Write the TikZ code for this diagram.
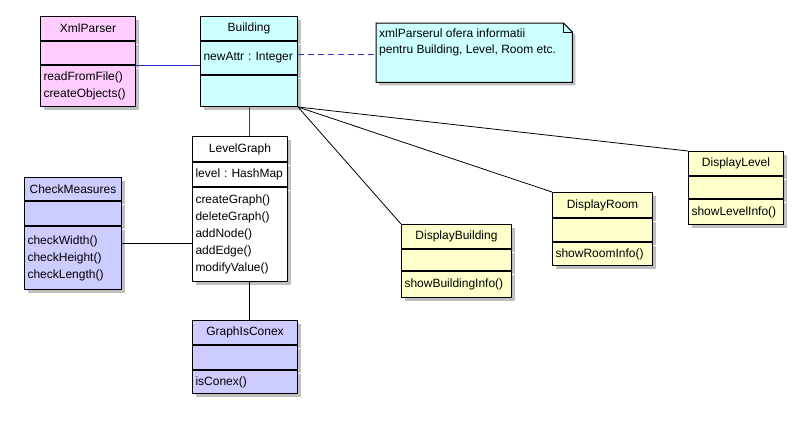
\documentclass[tikz,border=0pt]{standalone}
\usepackage{fontspec}
\setmainfont{Liberation Sans}
\usepackage{tikz}
\usetikzlibrary{positioning, shadows}
\definecolor{pinkc}{RGB}{255,204,255}
\definecolor{cyanc}{RGB}{204,255,255}
\definecolor{lavc}{RGB}{204,204,255}
\definecolor{yelc}{RGB}{255,255,204}
\definecolor{linkblue}{RGB}{45,45,205}
\tikzset{
  box/.style   = {draw, rectangle, line width=1bp, inner xsep=3bp, inner ysep=2bp,
                  font=\fontsize{12bp}{17bp}\selectfont,
                  drop shadow={shadow xshift=3bp, shadow yshift=-3bp, fill=black!25, opacity=1}},
  hdr/.style   = {box, anchor=north west, align=center},
  cmp/.style   = {box, align=left},
  assoc/.style = {line width=0.8bp},
  link/.style  = {line width=1bp, linkblue},
  dep/.style   = {link, dash pattern=on 6bp off 4bp},
  notebox/.style = {draw, line width=1bp, fill=cyanc,
                  drop shadow={shadow xshift=3bp, shadow yshift=-3bp, fill=black!25, opacity=1}},
  notetxt/.style = {inner sep=0pt, align=left, font=\fontsize{12bp}{16bp}\selectfont},
}

\begin{document}
\begin{tikzpicture}[x=1bp, y=-1bp]
  \useasboundingbox[fill=white] (0,0) rectangle (807,423);
  % XmlParser
  \node[hdr, fill=pinkc, minimum width=95bp, minimum height=24bp] (xmlp) at (40,16) {XmlParser};
  \node[cmp, fill=pinkc, text width=89bp, minimum height=23bp, below=0pt of xmlp] (xmlp-at) {};
  \node[cmp, fill=pinkc, text width=89bp, minimum height=41bp, below=0pt of xmlp-at] (xmlp-op)
    {readFromFile()\\createObjects()};
  % Building
  \node[hdr, fill=cyanc, minimum width=97bp, minimum height=24bp] (bldg) at (200,16) {Building};
  \node[cmp, fill=cyanc, text width=91bp, minimum height=33bp, below=0pt of bldg] (bldg-at)
    {newAttr~:~Integer};
  \node[cmp, fill=cyanc, text width=91bp, minimum height=31bp, below=0pt of bldg-at] (bldg-op) {};
  % note
  \node[minimum width=196bp, minimum height=59bp, inner sep=0pt, anchor=north west] (note) at (376,23) {};
  \draw[notebox] (note.north west) -- ([xshift=-9bp]note.north east) -- ([yshift=-9bp]note.north east)
    -- (note.south east) -- (note.south west) -- cycle;
  \draw[line width=1bp] ([xshift=-9bp]note.north east) |- ([yshift=-9bp]note.north east);
  \node[notetxt, anchor=north west] (note-txt) at ([xshift=3bp, yshift=-6bp]note.north west)
    {xmlParserul ofera informatii\\pentru Building, Level, Room etc.};
  % LevelGraph
  \node[hdr, fill=white, minimum width=95bp, minimum height=25bp] (lvl) at (192,136) {LevelGraph};
  \node[cmp, fill=white, text width=89bp, minimum height=24bp, below=0pt of lvl] (lvl-at)
    {level~:~HashMap};
  \node[cmp, fill=white, text width=89bp, minimum height=94bp, below=0pt of lvl-at] (lvl-op)
    {createGraph()\\deleteGraph()\\addNode()\\addEdge()\\modifyValue()};
  % CheckMeasures
  \node[hdr, fill=lavc, minimum width=97bp, minimum height=23bp] (chk) at (24,177) {CheckMeasures};
  \node[cmp, fill=lavc, text width=91bp, minimum height=24bp, below=0pt of chk] (chk-at) {};
  \node[cmp, fill=lavc, text width=91bp, minimum height=63bp, below=0pt of chk-at] (chk-op)
    {checkWidth()\\checkHeight()\\checkLength()};
  % GraphIsConex
  \node[hdr, fill=lavc, minimum width=105bp, minimum height=24bp] (gic) at (192,320) {GraphIsConex};
  \node[cmp, fill=lavc, text width=99bp, minimum height=24bp, below=0pt of gic] (gic-at) {};
  \node[cmp, fill=lavc, text width=99bp, minimum height=23bp, below=0pt of gic-at] (gic-op) {isConex()};
  % display classes
  \node[hdr, fill=yelc, minimum width=110bp, minimum height=24bp] (dbld) at (401,224) {DisplayBuilding};
  \node[cmp, fill=yelc, text width=104bp, minimum height=21bp, below=0pt of dbld] (dbld-at) {};
  \node[cmp, fill=yelc, text width=104bp, minimum height=26bp, below=0pt of dbld-at] (dbld-op)
    {showBuildingInfo()};
  \node[hdr, fill=yelc, minimum width=100bp, minimum height=25bp] (droom) at (552,192) {DisplayRoom};
  \node[cmp, fill=yelc, text width=94bp, minimum height=23bp, below=0pt of droom] (droom-at) {};
  \node[cmp, fill=yelc, text width=94bp, minimum height=23bp, below=0pt of droom-at] (droom-op)
    {showRoomInfo()};
  \node[hdr, fill=yelc, minimum width=95bp, minimum height=24bp] (dlvl) at (688,151) {DisplayLevel};
  \node[cmp, fill=yelc, text width=89bp, minimum height=22bp, below=0pt of dlvl] (dlvl-at) {};
  \node[cmp, fill=yelc, text width=89bp, minimum height=25bp, below=0pt of dlvl-at] (dlvl-op)
    {showLevelInfo()};
  % connectors
  \draw[link] (xmlp-at.south east) -- (xmlp-at.south east -| bldg-at.west);
  \coordinate (n1) at ([yshift=4bp]bldg-at.east);
  \draw[dep] (n1) -- (n1 -| note.west);
  \draw[link] (bldg-op.south) -- (bldg-op.south |- lvl.north);
  \coordinate (c1) at ([yshift=15bp]chk-op.east);
  \draw[assoc] (c1) -- (c1 -| lvl-op.west);
  \draw[assoc] (lvl-op.south -| bldg-op.south) -- (gic.north -| bldg-op.south);
  \draw[assoc] (bldg-op.south east) -- (dbld.north west);
  \draw[assoc] (bldg-op.south east) -- (droom.north west);
  \draw[assoc] (bldg-op.south east) -- (dlvl.north west);
\end{tikzpicture}
\end{document}
